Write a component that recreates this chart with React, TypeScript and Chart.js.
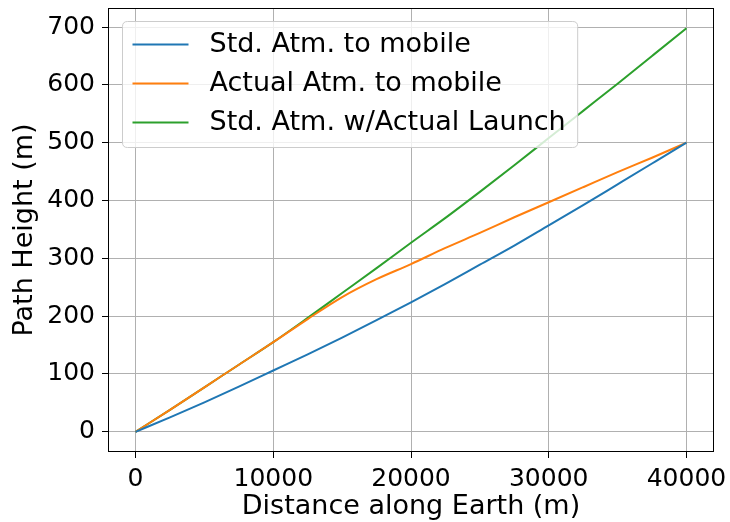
import React, { useEffect, useRef } from "react";
import { Chart, registerables } from "chart.js";

Chart.register(...registerables);

// ---- data ----
const distances = [0, 2500, 5000, 7500, 10000, 12500, 15000, 17500, 20000, 22500, 25000, 27500, 30000, 32500, 35000, 37500, 40000];
const stdAtm = [0, 25, 51, 78, 106, 134, 163, 193, 224, 256, 289, 322, 357, 392, 428, 464, 500];
const actualAtm = [0, 38, 77, 116, 155, 195, 233, 264, 290, 318, 344, 371, 397, 423, 449, 474, 500];
const stdAtmLaunch = [0, 38, 77, 116, 155, 197, 240, 283, 327, 370, 415, 461, 508, 555, 602, 650, 698];
const seriesLabels = ["Std. Atm. to mobile", "Actual Atm. to mobile", "Std. Atm. w/Actual Launch"];
const seriesColors = ["#1f77b4", "#ff7f0e", "#2ca02c"];
const xTicks = [0, 10000, 20000, 30000, 40000];
const yTicks = [0, 100, 200, 300, 400, 500, 600, 700];
const xTitle = "Distance along Earth (m)";
const yTitle = "Path Height (m)";

const FONT = "'DejaVu Sans', 'Liberation Sans', sans-serif";
const TICK_SIZE = 25;
const TITLE_SIZE = 27;
const LEGEND_SIZE = 27;

const framePlugin = {
  id: "mplFrame",
  afterDatasetsDraw(chart: any) {
    const { ctx, chartArea: a } = chart;
    ctx.save();
    ctx.strokeStyle = "#000000";
    ctx.lineWidth = 1;
    ctx.strokeRect(Math.round(a.left) + 0.5, Math.round(a.top) + 0.5, Math.round(a.right - a.left) - 1, Math.round(a.bottom - a.top) - 1);
    ctx.restore();
  },
};

const legendPlugin = {
  id: "mplLegend",
  afterDatasetsDraw(chart: any) {
    const { ctx, chartArea: a } = chart;
    const ds = chart.data.datasets;
    ctx.save();
    ctx.font = `${LEGEND_SIZE}px ${FONT}`;
    const maxW = Math.max(...ds.map((d: any) => ctx.measureText(d.label).width));
    const x0 = a.left + 14.5;
    const y0 = a.top + 13.5;
    const w = 10 + 56 + 21 + maxW + 12;
    const rowH = 39;
    const h = 23 + rowH * (ds.length - 1) + 25;
    const r = 5;
    ctx.beginPath();
    ctx.moveTo(x0 + r, y0);
    ctx.lineTo(x0 + w - r, y0);
    ctx.quadraticCurveTo(x0 + w, y0, x0 + w, y0 + r);
    ctx.lineTo(x0 + w, y0 + h - r);
    ctx.quadraticCurveTo(x0 + w, y0 + h, x0 + w - r, y0 + h);
    ctx.lineTo(x0 + r, y0 + h);
    ctx.quadraticCurveTo(x0, y0 + h, x0, y0 + h - r);
    ctx.lineTo(x0, y0 + r);
    ctx.quadraticCurveTo(x0, y0, x0 + r, y0);
    ctx.closePath();
    ctx.fillStyle = "rgba(255,255,255,0.8)";
    ctx.fill();
    ctx.strokeStyle = "#cccccc";
    ctx.lineWidth = 1;
    ctx.stroke();
    ds.forEach((d: any, i: number) => {
      const cy = y0 + 23 + i * rowH;
      ctx.beginPath();
      ctx.strokeStyle = d.borderColor;
      ctx.lineWidth = 2;
      ctx.moveTo(x0 + 10, cy);
      ctx.lineTo(x0 + 66, cy);
      ctx.stroke();
      ctx.fillStyle = "#000000";
      ctx.textBaseline = "middle";
      ctx.textAlign = "left";
      ctx.fillText(d.label, x0 + 87, cy);
    });
    ctx.restore();
  },
};

export default function App() {
  const canvasRef = useRef<HTMLCanvasElement | null>(null);

  useEffect(() => {
    if (!canvasRef.current) return;
    const series = [stdAtm, actualAtm, stdAtmLaunch];
    const chart = new Chart(canvasRef.current, {
      type: "line",
      data: {
        datasets: series.map((vals, i) => ({
          label: seriesLabels[i],
          data: distances.map((x, j) => ({ x, y: vals[j] })),
          borderColor: seriesColors[i],
          backgroundColor: seriesColors[i],
          borderWidth: 2,
          pointRadius: 0,
          cubicInterpolationMode: "monotone",
          fill: false,
        })),
      },
      options: {
        responsive: false,
        animation: false,
        layout: { padding: { left: 0, top: 8, right: 16, bottom: 0 } },
        plugins: {
          legend: { display: false },
          tooltip: { enabled: false },
        },
        scales: {
          x: {
            type: "linear",
            min: -2000,
            max: 42000,
            afterBuildTicks: (s: any) => {
              s.ticks = xTicks.map((v) => ({ value: v }));
            },
            afterFit: (s: any) => {
              s.height = 70;
              s.paddingLeft = 0;
              s.paddingRight = 0;
            },
            grid: { color: "#b0b0b0", lineWidth: 1, tickLength: 6, tickColor: "#000000", drawTicks: true },
            border: { display: false },
            ticks: {
              color: "#000000",
              font: { family: FONT, size: TICK_SIZE },
              padding: 6,
              maxRotation: 0,
              callback: (v: any) => String(v),
            },
            title: {
              display: true,
              text: xTitle,
              color: "#000000",
              font: { family: FONT, size: TITLE_SIZE },
              padding: { top: 0, bottom: -1 },
            },
          },
          y: {
            type: "linear",
            min: -34.9,
            max: 732.9,
            afterBuildTicks: (s: any) => {
              s.ticks = yTicks.map((v) => ({ value: v }));
            },
            afterFit: (s: any) => {
              s.width = 108;
              s.paddingTop = 0;
              s.paddingBottom = 0;
            },
            grid: { color: "#b0b0b0", lineWidth: 1, tickLength: 6, tickColor: "#000000", drawTicks: true },
            border: { display: false },
            ticks: {
              color: "#000000",
              font: { family: FONT, size: TICK_SIZE },
              padding: 7,
              callback: (v: any) => String(v),
            },
            title: {
              display: true,
              text: yTitle,
              color: "#000000",
              font: { family: FONT, size: TITLE_SIZE },
              padding: { top: 9, bottom: 0 },
            },
          },
        },
      },
      plugins: [framePlugin, legendPlugin],
    });
    return () => chart.destroy();
  }, []);

  return (
    <div style={{ position: "fixed", left: 0, top: 0, width: 730, height: 522, background: "#ffffff" }}>
      <canvas ref={canvasRef} width={730} height={522} />
    </div>
  );
}
